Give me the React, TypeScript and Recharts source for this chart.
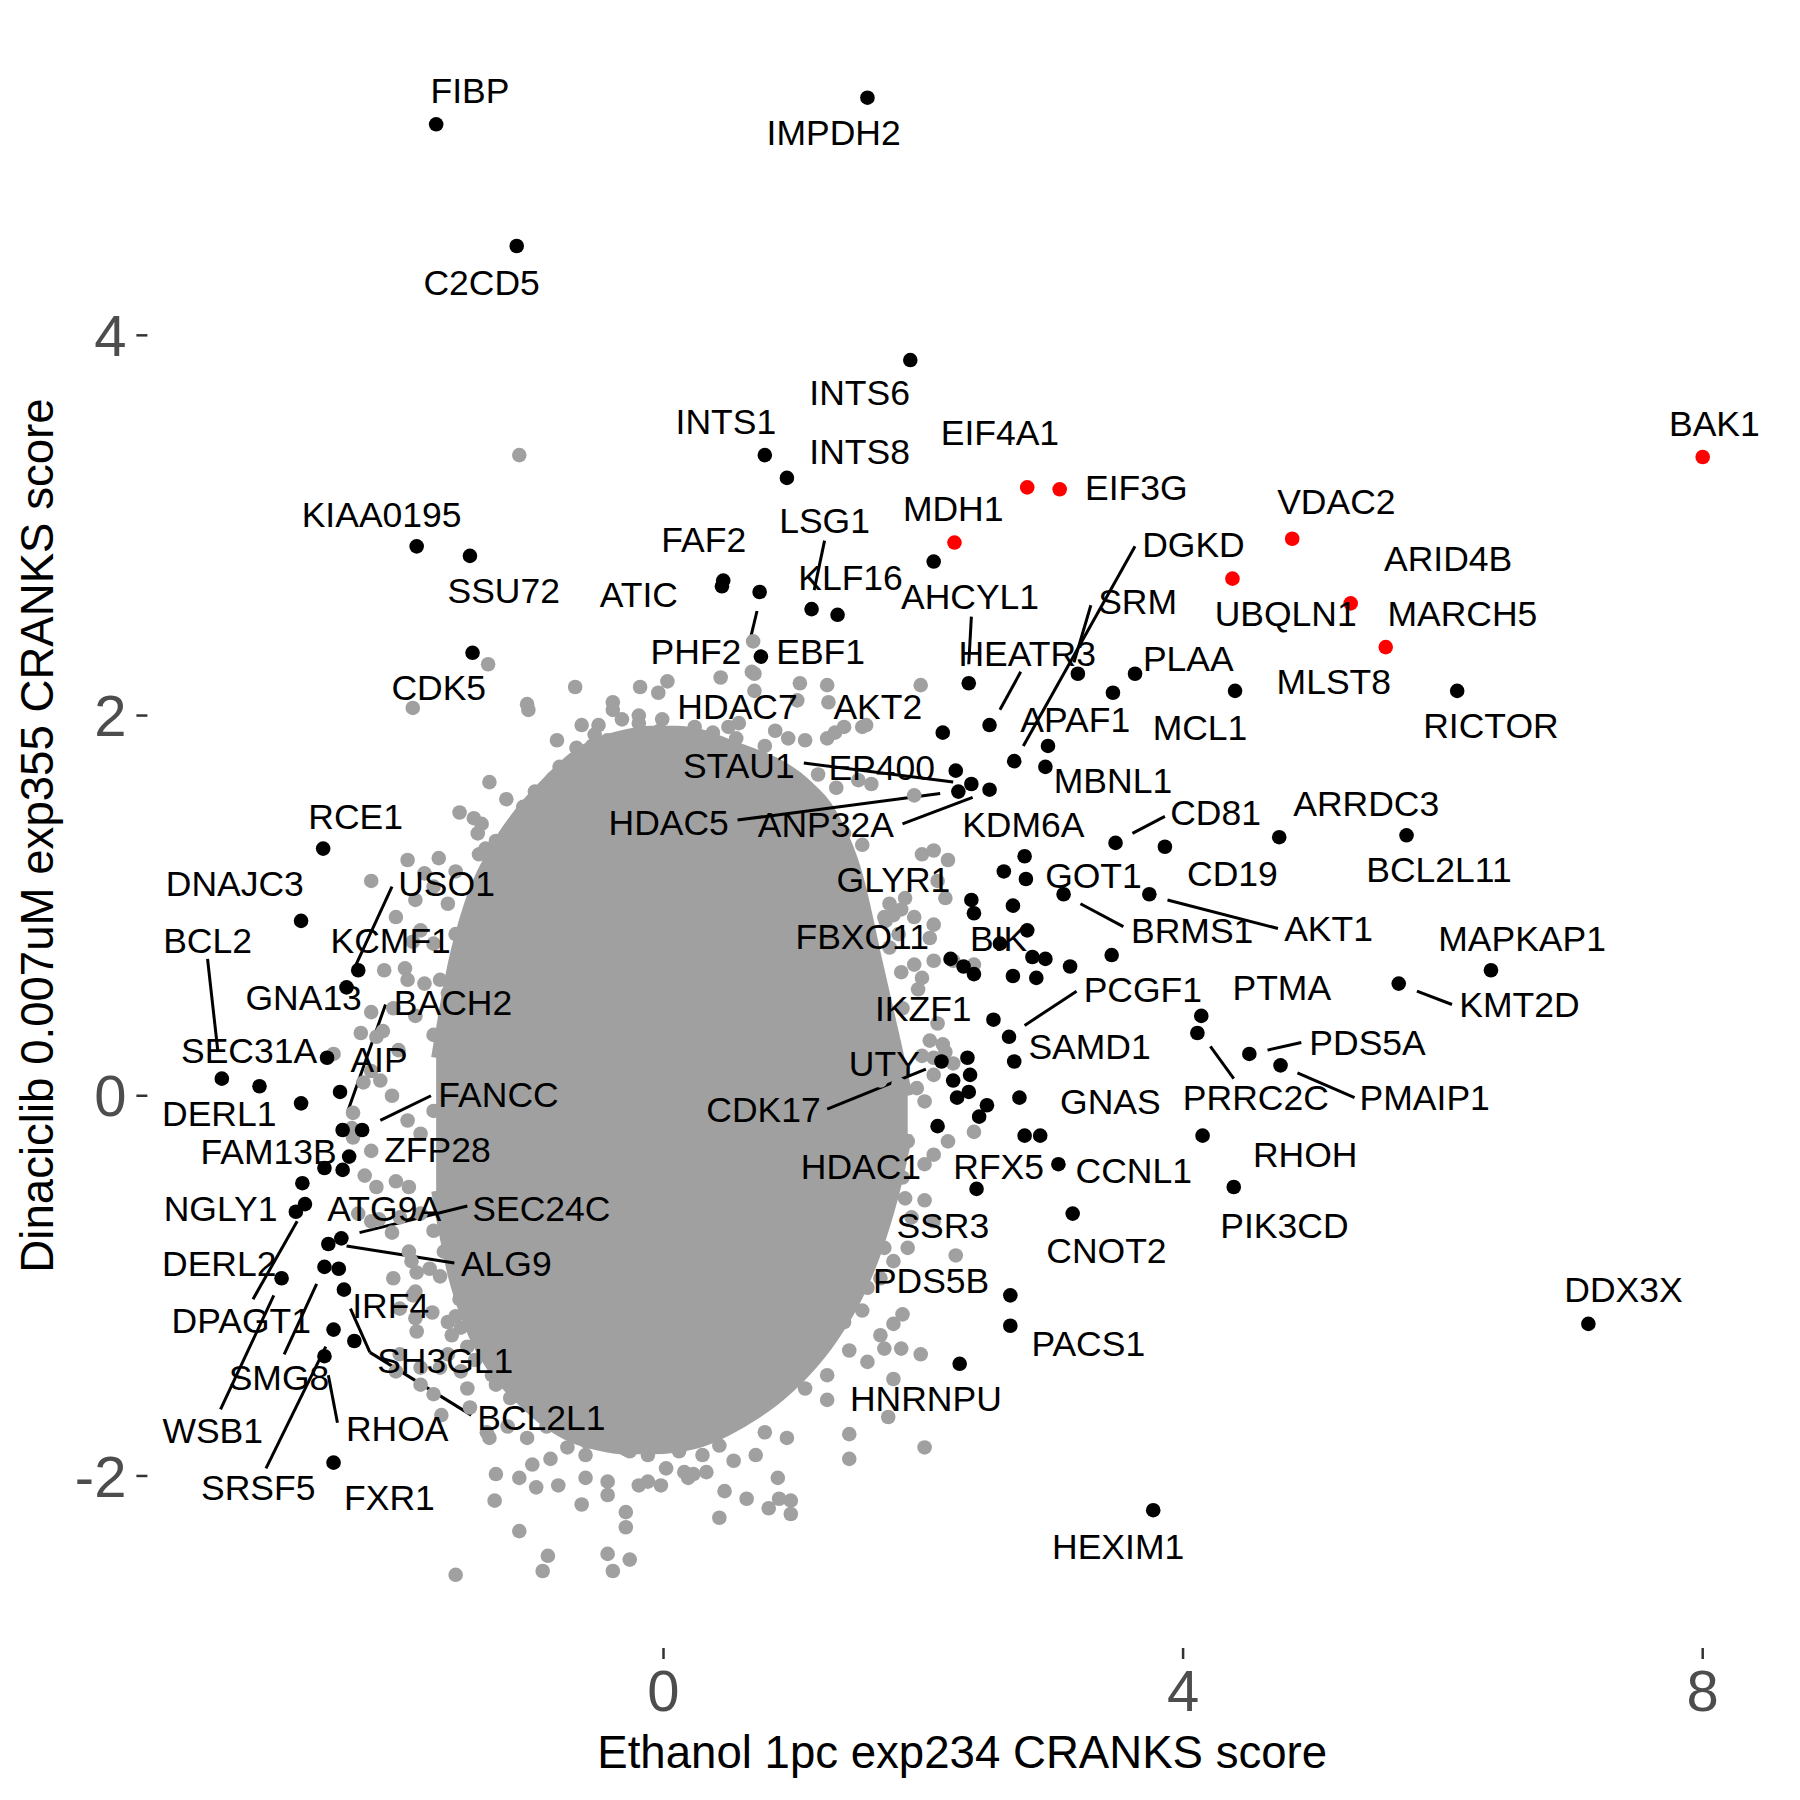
import React from 'react';
import { ComposedChart, XAxis, YAxis, Scatter, Area, ReferenceLine } from 'recharts';

const FONT = '"Liberation Sans", Arial, Helvetica, sans-serif';
const X_TITLE = 'Ethanol 1pc exp234 CRANKS score';
const Y_TITLE = 'Dinaciclib 0.007uM exp355 CRANKS score';
const X_TICKS = [0, 4, 8];
const Y_TICKS = [-2, 0, 2, 4];
const X_DOMAIN: [number, number] = [-3.973, 8.572];
const Y_DOMAIN: [number, number] = [-2.905, 5.643];

// dense core of the gray cloud: [x, low, high]
const coreBand: [number, number, number][] = [
  [-1.75, -0.5, 0.2], [-1.62, -0.95, 0.7], [-1.5, -1.2, 1.0], [-1.3, -1.45, 1.3],
  [-1.1, -1.6, 1.5], [-0.9, -1.72, 1.65], [-0.7, -1.8, 1.78], [-0.5, -1.84, 1.86],
  [-0.3, -1.86, 1.9], [-0.1, -1.86, 1.92], [0.1, -1.85, 1.92], [0.3, -1.82, 1.9],
  [0.5, -1.76, 1.85], [0.7, -1.68, 1.8], [0.9, -1.58, 1.74], [1.1, -1.45, 1.64],
  [1.3, -1.28, 1.48], [1.5, -1.05, 1.15], [1.65, -0.8, 0.7], [1.8, -0.45, 0.25], [1.88, -0.2, 0.0],
];

// other (non-highlighted) genes outside the dense core
const grayPts: [number, number][] = [
  [-1.11,3.37],[0.69,2.39],[-1.35,2.27],[-1.93,2.04],[-0.68,2.15],[-1.05,2.06],[-1.04,2.03],[0.44,2.20],[0.70,2.22],[0.70,2.13],
  [-0.18,2.15],[0.03,2.18],[-0.04,2.12],[-0.39,2.07],[-0.39,2.03],[-0.32,1.98],[-0.19,2.00],[-0.19,1.96],[-0.18,1.90],[-0.01,1.98],
  [-0.03,1.92],[-0.63,1.95],[-0.50,1.95],[-0.55,1.84],[-0.62,1.78],[-0.43,1.81],[-0.34,1.82],[-0.08,1.82],[0.00,1.88],[0.08,1.87],
  [0.18,1.90],[0.24,1.94],[0.38,1.91],[0.50,1.94],[0.58,1.96],[0.56,1.88],[0.78,1.84],[0.86,1.92],[0.96,1.88],[-0.80,1.73],
  [-0.85,1.67],[-0.73,1.67],[-1.34,1.65],[-0.99,1.60],[-0.78,1.59],[-1.21,1.56],[-1.02,1.53],[-1.57,1.49],[-1.46,1.46],[-1.40,1.43],
  [-1.43,1.38],[-0.43,1.69],[-0.49,1.57],[-1.97,1.24],[-1.37,1.30],[-1.27,1.27],[-1.13,1.27],[-1.05,1.37],[-0.95,1.41],[-0.90,1.46],
  [-0.82,1.48],[-0.73,1.46],[-0.59,1.48],
  [-2.25,1.13],[-2.06,0.94],[-2.15,0.66],[-2.25,0.44],[-2.16,0.34],[-2.04,0.24],[-2.25,0.13],[-2.18,0.08],[-2.09,0.00],[-2.40,-0.17],
  [-1.97,-0.13],[-1.87,-0.20],[-1.77,-0.08],[-1.66,-0.15],[-1.97,0.61],[-1.84,0.59],[-2.08,0.46],[-1.91,0.42],[-1.77,0.32],[-1.60,0.55],
  [-1.56,0.43],[-1.87,0.87],[-1.77,0.80],[-1.60,0.85],[-1.56,0.71],[-1.42,0.67],[-1.91,1.03],[-1.77,1.10],[-1.66,1.01],[-1.84,1.17],
  [-1.73,1.25],[-1.60,1.18],[-1.36,1.17],[-1.32,1.06],[-1.42,1.27],[-1.32,1.27],[-1.18,1.24],[-1.29,1.34],[-1.15,1.34],[-1.01,1.39],
  [-1.08,1.52],[-0.98,1.48],[-0.87,1.55],[-0.74,1.60],[-0.63,1.76],[-0.53,1.80],[-0.82,1.87],[-0.67,1.83],[-0.53,1.90],[-0.43,1.87],
  [1.05,2.17],[1.98,2.16],[1.09,1.87],[1.26,1.88],[1.39,1.94],[1.53,1.94],[1.02,1.67],[1.19,1.69],[1.33,1.62],[1.50,1.66],
  [1.60,1.64],[1.39,1.38],[1.41,1.29],[1.53,1.32],[2.08,1.29],[2.19,1.24],[1.09,1.29],[1.19,1.18],[1.33,1.06],[1.22,0.99],
  [1.74,1.01],[1.70,0.94],[1.81,0.85],[1.74,0.78],[2.05,0.83],[2.08,0.71],[2.39,0.69],[1.19,0.73],[1.36,0.64],[1.57,0.62],
  [1.67,0.53],[1.84,0.46],[1.74,0.36],[1.50,0.29],[1.33,0.22],[2.15,0.27],[2.08,0.20],[1.95,0.04],[2.01,-0.03],[1.53,0.11],
  [1.67,0.08],[1.81,0.06],
  [0.68,2.23],[1.03,2.08],[1.26,2.16],[1.27,2.07],[1.56,1.95],[1.32,1.91],[1.93,1.58],[1.99,1.27],[2.11,1.13],[2.17,1.04],
  [1.86,1.04],[1.83,0.98],[1.77,0.95],[1.71,0.92],[1.93,0.94],[2.08,0.90],[2.23,0.71],[1.93,0.69],[1.83,0.65],[1.99,0.62],
  [1.96,0.56],[2.11,0.38],[2.05,0.29],[2.17,0.23],[2.23,0.17],[2.08,0.11],[1.99,0.21],[2.08,-0.31],
  [-2.30,-0.42],[-2.06,-0.45],[-1.96,-0.48],[-2.35,-0.62],[-2.25,-0.66],[-1.87,-0.62],[-1.77,-0.71],[-1.94,-0.87],[-1.80,-0.91],[-2.08,-0.96],
  [-1.91,-1.03],[-2.03,-1.12],[-1.91,-1.17],[-2.06,-1.45],[-1.87,-1.52],[-1.77,-1.57],[-1.66,-1.36],[-1.56,-1.45],[-1.66,-1.19],[-1.56,-1.22],
  [-1.51,-1.54],[-1.49,-1.64],[-1.36,-1.77],[-1.29,-1.52],[-1.18,-1.59],[-1.01,-1.47],[-1.05,-1.57],[-0.94,-1.50],[-0.87,-1.66],[-0.74,-1.64],
  [-0.60,-1.61],[-0.39,-1.70],[-0.26,-1.62],[-0.05,-1.61],[0.12,-1.59],[0.26,-1.62],[0.40,-1.59],[0.57,-1.52],[0.71,-1.57],[0.85,-1.50],
  [0.98,-1.45],[1.09,-1.54],[1.26,-1.47],[1.43,-1.34],[1.57,-1.40],[1.70,-1.33],[1.26,-1.24],[1.39,-1.19],[1.53,-1.13],[1.67,-1.26],
  [1.77,-1.20],[1.84,-1.15],[1.43,-1.05],[1.57,-1.01],[1.67,-0.96],[1.98,-1.36],[1.77,-0.87],[1.88,-0.80],[1.70,-0.80],[2.25,-0.84],
  [2.01,-0.55],[1.91,-0.64],[2.08,-0.66],[1.67,-0.66],[1.60,-0.73],[1.77,-0.17],[1.88,-0.24],[2.19,-0.24],[2.39,-0.19],[1.67,-0.38],
  [1.84,-0.43],[2.01,-0.36],[2.01,-1.85],[1.43,-1.78],[1.43,-1.91],[0.88,-2.01],[0.98,-2.13],[0.81,-2.17],[0.64,-2.12],[0.47,-2.08],
  [0.43,-2.22],[0.19,-2.01],[0.33,-1.98],[-0.12,-2.03],[-0.02,-2.05],[-0.19,-2.05],[-0.29,-2.19],[-0.29,-2.27],[-0.43,-2.03],[-0.43,-2.10],
  [-0.60,-2.01],[-0.63,-2.15],[-0.81,-2.05],[-0.98,-2.06],[-1.11,-2.01],[-1.29,-1.99],[-1.30,-2.13],[-1.11,-2.29],[-0.89,-2.42],[-0.93,-2.50],
  [-0.43,-2.41],[-0.39,-2.50],[-0.26,-2.44],[-1.60,-2.52],[-1.01,-1.94],[-0.87,-1.91],[-0.74,-1.85],[-0.60,-1.89],[-0.39,-1.82],[-0.26,-1.87],
  [-0.12,-1.89],[0.02,-1.96],[0.16,-1.98],[0.12,-1.87],[0.30,-1.89],[0.43,-1.84],[0.54,-1.92],[0.78,-1.77],[0.95,-1.80],[0.71,-1.89],
  [1.86,-0.54],[1.83,-1.33],[1.77,-1.49],[1.73,-1.69],[1.26,-1.60],[0.98,-2.20],[0.89,-2.12],
  [-2.09,-0.72],[-1.96,-0.82],[-1.90,-0.93],[-1.69,-0.82],[-1.60,-0.93],[-1.72,-0.95],[-1.93,-1.05],[-1.78,-1.14],[-1.57,-1.07],[-1.60,-1.16],
  [-1.45,-1.14],[-1.90,-1.24],[-1.63,-1.26],[-1.51,-1.32],[-1.45,-1.39],[-2.03,-1.36],[-1.87,-1.43],[-1.72,-1.43],[-1.32,-1.47],[-1.17,-1.45],
  [-1.11,-1.51],[-1.71,-1.68],[-1.34,-1.80],[-1.20,-1.74],[-1.05,-1.80],[-0.90,-1.74],[-0.75,-1.74],[-0.59,-1.82],[-0.43,-1.80],[-0.29,-1.86],
  [-0.14,-1.80],[0.23,-1.99],
  [-1.93,0.81],[-1.99,0.67],[-1.72,0.61],[-1.66,0.54],[-2.33,0.33],[-2.21,0.31],[-2.54,0.22],[-2.31,0.07],[-2.39,-0.09],[-2.25,-0.29],
  [-2.39,-0.22],[-2.21,-0.48],[-2.19,-0.65],[-2.03,-0.64],
];

// highlighted genes (black)
const blackPts: [number, number][] = [
  [-1.75,5.11],[-1.13,4.47],[1.57,5.25],[1.90,3.87],[0.78,3.37],[0.95,3.25],[-1.90,2.89],[-1.49,2.84],[0.46,2.71],[0.45,2.68],
  [0.74,2.65],[1.14,2.56],[1.34,2.53],[2.08,2.81],[0.75,2.31],[-1.47,2.33],[2.35,2.17],[2.51,1.95],[2.15,1.91],[3.19,2.22],
  [3.63,2.22],[3.46,2.12],[4.40,2.13],[6.11,2.13],[2.96,1.84],[2.70,1.76],[2.94,1.73],[2.25,1.71],[2.37,1.64],[2.27,1.60],
  [2.51,1.61],[3.48,1.33],[3.86,1.31],[4.74,1.36],[5.72,1.37],[2.78,1.26],[2.62,1.18],[2.79,1.14],[3.08,1.06],[3.74,1.06],
  [2.37,1.03],[2.39,0.96],[2.69,1.00],[2.80,0.87],[2.59,0.80],[3.45,0.74],[2.21,0.72],[2.31,0.68],[2.39,0.64],[2.84,0.73],
  [2.94,0.72],[3.13,0.68],[2.69,0.63],[2.87,0.62],[6.37,0.66],[5.66,0.59],[2.54,0.40],[2.66,0.31],[4.14,0.42],[4.11,0.33],
  [4.51,0.22],[4.75,0.16],[2.70,0.18],[2.14,0.18],[2.34,0.20],[2.23,0.08],[2.36,0.11],[2.74,-0.01],[2.26,-0.01],[2.35,0.02],
  [2.49,-0.05],[2.43,-0.11],[2.11,-0.16],[2.78,-0.21],[2.90,-0.21],[3.04,-0.36],[4.15,-0.21],[2.41,-0.49],[4.39,-0.48],[3.15,-0.62],
  [2.67,-1.05],[2.67,-1.21],[2.28,-1.41],[3.77,-2.18],[7.12,-1.20],
  [-2.62,1.30],[-2.79,0.92],[-2.35,0.66],[-2.44,0.57],[-2.59,0.20],[-3.40,0.09],[-3.11,0.05],[-2.79,-0.04],[-2.49,0.02],[-2.47,-0.18],
  [-2.32,-0.18],[-2.42,-0.32],[-2.61,-0.38],[-2.47,-0.39],[-2.78,-0.46],[-2.76,-0.57],[-2.83,-0.61],[-2.48,-0.75],[-2.58,-0.78],[-2.94,-0.96],
  [-2.61,-0.90],[-2.50,-0.91],[-2.46,-1.02],[-2.54,-1.23],[-2.38,-1.29],[-2.61,-1.37],[-2.54,-1.93],
];

// highlighted genes (red)
const redPts: [number, number][] = [
  [2.80,3.20],[3.05,3.19],[2.24,2.91],[4.84,2.93],[4.38,2.72],[5.29,2.59],[5.56,2.36],[8.00,3.36],
];

// gene labels: [name, x, y]
const geneLabels: [string, number, number][] = [
  ['FIBP',-1.49,5.29],['IMPDH2',1.31,5.07],['C2CD5',-1.40,4.28],['INTS6',1.51,3.70],['INTS1',0.48,3.55],['INTS8',1.51,3.39],
  ['EIF4A1',2.59,3.49],['EIF3G',3.64,3.20],['BAK1',8.09,3.54],['MDH1',2.23,3.09],['VDAC2',5.18,3.13],['KIAA0195',-2.17,3.06],
  ['LSG1',1.24,3.03],['FAF2',0.31,2.93],['DGKD',4.08,2.90],['ARID4B',6.04,2.83],['SSU72',-1.23,2.66],['ATIC',-0.19,2.64],
  ['KLF16',1.44,2.73],['AHCYL1',2.36,2.63],['SRM',3.65,2.60],['UBQLN1',4.79,2.54],['MARCH5',6.15,2.54],['PHF2',0.25,2.34],
  ['EBF1',1.21,2.34],['HEATR3',2.80,2.33],['PLAA',4.04,2.30],['MLST8',5.16,2.18],['CDK5',-1.73,2.15],['HDAC7',0.57,2.05],
  ['AKT2',1.65,2.05],['APAF1',3.17,1.98],['MCL1',4.13,1.94],['RICTOR',6.37,1.95],['STAU1',0.58,1.74],['EP400',1.68,1.73],
  ['MBNL1',3.46,1.66],['HDAC5',0.04,1.44],['ANP32A',1.25,1.43],['KDM6A',2.77,1.43],['ARRDC3',5.41,1.54],['CD81',4.25,1.49],
  ['RCE1',-2.37,1.47],['BCL2L11',5.97,1.19],['CD19',4.38,1.17],['GLYR1',1.77,1.14],['GOT1',3.31,1.16],['DNAJC3',-3.30,1.12],
  ['USO1',-1.67,1.12],['BRMS1',4.07,0.87],['AKT1',5.12,0.88],['FBXO11',1.53,0.84],['BIK',2.58,0.83],['MAPKAP1',6.61,0.83],
  ['KCMF1',-2.10,0.82],['BCL2',-3.51,0.82],['PTMA',4.76,0.57],['PCGF1',3.69,0.56],['KMT2D',6.59,0.48],['GNA13',-2.77,0.52],
  ['BACH2',-1.62,0.49],['IKZF1',2.00,0.46],['PDS5A',5.42,0.28],['SAMD1',3.28,0.26],['SEC31A',-3.19,0.24],['AIP',-2.19,0.19],
  ['UTY',1.70,0.17],['FANCC',-1.27,0.01],['CDK17',0.77,-0.07],['PMAIP1',5.86,-0.01],['PRRC2C',4.56,-0.01],['GNAS',3.44,-0.03],
  ['DERL1',-3.42,-0.09],['FAM13B',-3.04,-0.29],['ZFP28',-1.74,-0.28],['RHOH',4.94,-0.31],['HDAC1',1.52,-0.37],['RFX5',2.58,-0.37],
  ['CCNL1',3.62,-0.39],['NGLY1',-3.41,-0.59],['ATG9A',-2.15,-0.59],['SEC24C',-0.94,-0.59],['SSR3',2.15,-0.68],['PIK3CD',4.78,-0.68],
  ['CNOT2',3.41,-0.81],['DERL2',-3.42,-0.88],['ALG9',-1.21,-0.88],['PDS5B',2.06,-0.97],['DDX3X',7.39,-1.02],['IRF4',-2.10,-1.10],
  ['DPAGT1',-3.25,-1.18],['PACS1',3.27,-1.30],['SH3GL1',-1.68,-1.39],['SMG8',-2.96,-1.48],['HNRNPU',2.02,-1.59],['BCL2L1',-0.94,-1.69],
  ['RHOA',-2.05,-1.75],['WSB1',-3.47,-1.76],['SRSF5',-3.12,-2.06],['FXR1',-2.11,-2.11],['HEXIM1',3.50,-2.37],
];

// label connector segments: [x1, y1, x2, y2]
const connectors: [number, number, number, number][] = [
  [1.24,2.92,1.16,2.66],[0.72,2.55,0.66,2.38],[2.37,2.52,2.35,2.27],[2.75,2.23,2.59,2.03],[3.63,2.89,2.77,1.84],
  [3.29,2.58,3.16,2.28],[1.08,1.75,2.23,1.65],[0.57,1.45,2.13,1.59],[1.84,1.43,2.38,1.57],[3.61,1.38,3.86,1.47],
  [3.21,1.01,3.54,0.89],[3.88,1.03,4.73,0.88],[5.80,0.55,6.07,0.48],[2.78,0.37,3.18,0.55],[1.26,-0.07,2.02,0.14],
  [4.65,0.24,4.91,0.28],[4.88,0.12,5.32,-0.01],[4.21,0.26,4.39,0.09],[-2.09,1.10,-2.38,0.67],[-3.51,0.72,-3.43,0.23],
  [-2.14,0.48,-2.43,-0.08],[-2.18,-0.13,-1.79,0.00],[-2.34,-0.72,-1.51,-0.58],[-2.44,-0.79,-1.61,-0.88],[-2.82,-0.66,-3.16,-1.07],
  [-2.92,-1.36,-2.67,-0.99],[-3.41,-1.65,-3.00,-1.05],[-2.41,-1.12,-2.26,-1.35],[-2.26,-1.35,-1.48,-1.68],[-2.58,-1.47,-2.51,-1.72],
  [-3.06,-1.96,-2.60,-1.32],
];

const GRAY = '#A0A0A0';
const R = 7.3;

const coreData = coreBand.map(([x, lo, hi]) => ({ x, band: [lo, hi] }));
const toPts = (a: [number, number][]) => a.map(([x, y]) => ({ x, y }));
const labelData = geneLabels.map(([name, x, y]) => ({ name, x, y }));

const dot = (color: string) => (p: any) =>
  p.cx == null ? <g /> : <circle cx={p.cx} cy={p.cy} r={R} fill={color} />;

const labelShape = (p: any) =>
  p.cx == null ? <g /> : (
    <text x={p.cx} y={p.cy} dy="0.36em" textAnchor="middle" fontSize={35.5} fontFamily={FONT} fill="#000">
      {p.payload?.name}
    </text>
  );

const tickStyle = { fontSize: 58, fill: '#4d4d4d', fontFamily: FONT };

export default function App() {
  return (
    <div style={{ position: 'absolute', left: 0, top: 0, background: '#fff' }}>
      <ComposedChart width={1800} height={1800} data={coreData} margin={{ top: 23, right: 23, bottom: 0, left: 0 }}>
        <XAxis
          type="number" dataKey="x" domain={X_DOMAIN} ticks={X_TICKS} allowDataOverflow
          height={152} tickSize={11} tickMargin={11} axisLine={false}
          tickLine={{ stroke: '#333333', strokeWidth: 2.5 }} tick={tickStyle}
          label={{
            content: (p: any) => {
              const vb = p.viewBox || {};
              return (
                <text x={vb.x + vb.width / 2} y={vb.y + 120} textAnchor="middle" fontSize={45.6} fontFamily={FONT} fill="#000">
                  {X_TITLE}
                </text>
              );
            },
          }}
        />
        <YAxis
          type="number" dataKey="y" domain={Y_DOMAIN} ticks={Y_TICKS} allowDataOverflow
          width={147.4} tickSize={11} tickMargin={10} axisLine={false}
          tickLine={{ stroke: '#333333', strokeWidth: 2.5 }} tick={tickStyle}
          label={{
            content: (p: any) => {
              const vb = p.viewBox || {};
              const cx = vb.x + 37;
              const cy = vb.y + vb.height / 2;
              return (
                <text x={cx} y={cy} dy="0.36em" transform={`rotate(-90 ${cx} ${cy})`} textAnchor="middle" fontSize={45.6} fontFamily={FONT} fill="#000">
                  {Y_TITLE}
                </text>
              );
            },
          }}
        />
        <Area type="monotone" dataKey="band" fill={GRAY} fillOpacity={1} stroke={GRAY} strokeWidth={10} dot={false} activeDot={false} isAnimationActive={false} />
        <Scatter data={toPts(grayPts)} dataKey="y" shape={dot(GRAY)} isAnimationActive={false} />
        <Scatter data={toPts(blackPts)} dataKey="y" shape={dot('#000000')} isAnimationActive={false} />
        <Scatter data={toPts(redPts)} dataKey="y" shape={dot('#FF0000')} isAnimationActive={false} />
        {connectors.map(([x1, y1, x2, y2], i) => (
          <ReferenceLine key={i} segment={[{ x: x1, y: y1 }, { x: x2, y: y2 }]} stroke="#000" strokeWidth={3} ifOverflow="visible" />
        ))}
        <Scatter data={labelData} dataKey="y" shape={labelShape} isAnimationActive={false} />
      </ComposedChart>
    </div>
  );
}
